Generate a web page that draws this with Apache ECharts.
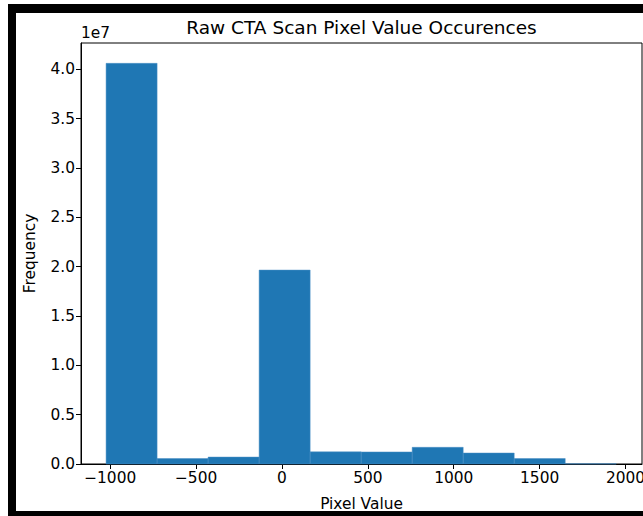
<!DOCTYPE html>
<html>
<head>
<meta charset="utf-8">
<script src="https://cdn.jsdelivr.net/npm/echarts@6/dist/echarts.min.js"></script>
<style>
html,body{margin:0;padding:0;background:#fff;}
#chart{width:643px;height:516px;}
</style>
</head>
<body>
<div id="chart"></div>
<script>
// Histogram bin edges (Pixel Value) and counts (Frequency)
const binEdges = [-1024, -727, -430, -133, 164, 461, 758, 1055, 1352, 1649, 1946];
const counts = [40.6e6, 0.55e6, 0.7e6, 19.65e6, 1.23e6, 1.22e6, 1.69e6, 1.11e6, 0.55e6, 0.02e6];
const xTicks = [-1000, -500, 0, 500, 1000, 1500, 2000];
const yTicks = [0, 0.5e7, 1.0e7, 1.5e7, 2.0e7, 2.5e7, 3.0e7, 3.5e7, 4.0e7];
const titleText = 'Raw CTA Scan Pixel Value Occurences';
const xName = 'Pixel Value';
const yName = 'Frequency';

const bins = counts.map((c, i) => [binEdges[i], binEdges[i + 1], c]);
const font = 'DejaVu Sans';
const fs = 15.4;

const chart = echarts.init(document.getElementById('chart'), null, {renderer: 'svg'});
chart.setOption({
  animation: false,
  backgroundColor: '#fff',
  grid: {left: 81, top: 43, right: 1, bottom: 52, containLabel: false, outerBoundsMode: 'none',
    show: true, borderColor: '#000', borderWidth: 1, backgroundColor: '#fff'},
  xAxis: {
    type: 'value', min: -1170, max: 2096,
    name: xName, nameLocation: 'middle', nameGap: 32,
    nameTextStyle: {fontFamily: font, fontSize: fs, color: '#000'},
    axisLine: {show: true, onZero: false, lineStyle: {color: '#000', width: 1}},
    axisTick: {show: true, length: 5, customValues: xTicks, lineStyle: {color: '#000'}},
    axisLabel: {customValues: xTicks, margin: 6, fontFamily: font, fontSize: fs, color: '#000',
      hideOverlap: false,
      formatter: v => (v < 0 ? '\u2212' + Math.abs(v) : String(v))},
    splitLine: {show: false}
  },
  yAxis: {
    type: 'value', min: 0, max: 42.66e6,
    name: yName, nameLocation: 'middle', nameGap: 44,
    nameTextStyle: {fontFamily: font, fontSize: fs, color: '#000'},
    axisLine: {show: true, onZero: false, lineStyle: {color: '#000', width: 1}},
    axisTick: {show: true, length: 5, customValues: yTicks, lineStyle: {color: '#000'}},
    axisLabel: {customValues: yTicks, margin: 6, fontFamily: font, fontSize: fs, color: '#000',
      formatter: v => (v / 1e7).toFixed(1)},
    splitLine: {show: false}
  },
  series: [{
    type: 'custom',
    data: bins,
    encode: {x: [0, 1], y: 2},
    renderItem: function (params, api) {
      const p0 = api.coord([api.value(0), 0]);
      const p1 = api.coord([api.value(1), api.value(2)]);
      return {
        type: 'rect',
        shape: {x: p0[0], y: p1[1], width: p1[0] - p0[0], height: p0[1] - p1[1]},
        style: {fill: '#1f77b4', stroke: '#4a8fc4', lineWidth: 0.5}
      };
    }
  }],
  graphic: [
    {type: 'rect', left: 8, top: 4, shape: {width: 635, height: 9}, style: {fill: '#000'}, silent: true},
    {type: 'rect', left: 8, top: 4, shape: {width: 8, height: 512}, style: {fill: '#000'}, silent: true},
    {type: 'rect', left: 8, top: 511, shape: {width: 635, height: 5}, style: {fill: '#000'}, silent: true},
    {type: 'text', x: 361.5, y: 27, style: {text: titleText, fontFamily: font, fontSize: 18.5, fill: '#000', textAlign: 'center', textVerticalAlign: 'middle'}},
    {type: 'text', x: 81, y: 33, style: {text: '1e7', fontFamily: font, fontSize: fs, fill: '#000', textAlign: 'left', textVerticalAlign: 'middle'}}
  ]
});
</script>
</body>
</html>
